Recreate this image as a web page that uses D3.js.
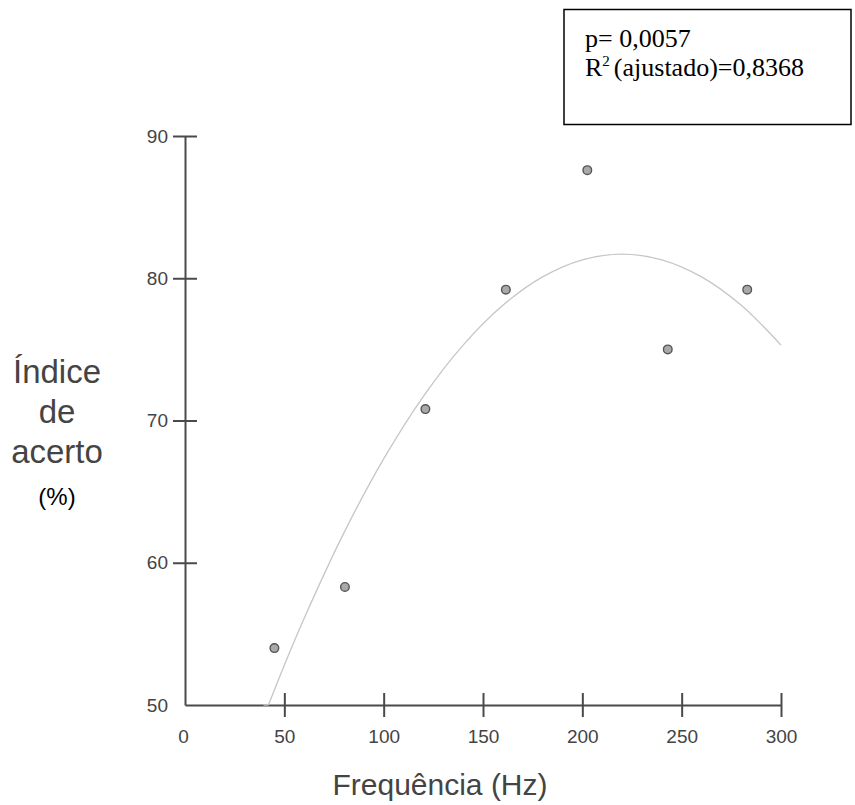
<!DOCTYPE html>
<html>
<head>
<meta charset="utf-8">
<script src="https://cdn.jsdelivr.net/npm/d3@7"></script>
<style>
  body { margin: 0; background: #fff; }
  svg { display: block; }
</style>
</head>
<body>
<div id="graph"></div>
<script>
// DATA
// measured points (frequency in Hz, hit rate in %)
const freqs = [45, 80.5, 121, 161.5, 202.5, 243, 283]
const acerto = [54.0, 58.3, 70.8, 79.2, 87.6, 75.0, 79.2]
// fitted curve (clipped at 50 on the left)
const fitFreqs = [42, 50, 60, 80, 100, 120, 140, 160, 180, 200, 220, 240, 260, 280, 300]
const fitValues = [50, 52.8, 56.1, 62.1, 67.3, 71.7, 75.3, 78.1, 80.1, 81.3, 81.7, 81.3, 80.1, 78.1, 75.3]
// short flat piece where the curve meets the x axis
const stubFreqs = [39.5, 42]
const stubValues = [50, 50]
// tick values
const xTicks = [0, 50, 100, 150, 200, 250, 300]
const yTicks = [50, 60, 70, 80, 90]
// stats box lines
const pText = "p= 0,0057"
const r2Value = "(ajustado)=0,8368"

// Colours
const axisColor = "#4a4a4a"
const labelColor = "#444"
const pointFill = "#a9a9a9"
const pointStroke = "#555"
const fitStroke = "#c6c6c6"

const width = 855
const height = 805

const svg = d3.select("#graph").append("svg")
  .attr("width", width).attr("height", height)

// scales
const xScale = d3.scaleLinear().domain([0, 300]).range([185, 781])
const yScale = d3.scaleLinear().domain([50, 90]).range([705, 136])

// x axis
const xAxis = svg.append("g")
  .attr("transform", `translate(0, ${yScale(50)})`)
  .call(d3.axisBottom(xScale).tickValues(xTicks).tickSizeInner(12).tickSizeOuter(0).tickPadding(13))
xAxis.select(".domain").attr("stroke", axisColor).attr("stroke-width", 2)
xAxis.selectAll(".tick line").attr("stroke", axisColor).attr("stroke-width", 2).attr("y1", -12)
  .filter(d => d == 0).remove()
xAxis.selectAll(".tick text")
  .attr("fill", labelColor).style("font-family", "'Liberation Sans', Arial, sans-serif").style("font-size", "19px")
  .attr("dx", d => d == 0 ? -2 : 0)

// y axis
const yAxis = svg.append("g")
  .attr("transform", `translate(${xScale(0)}, 0)`)
  .call(d3.axisLeft(yScale).tickValues(yTicks).tickSizeInner(12).tickSizeOuter(0).tickPadding(5))
yAxis.select(".domain").attr("stroke", axisColor).attr("stroke-width", 2)
yAxis.selectAll(".tick line").attr("stroke", axisColor).attr("stroke-width", 2).attr("x1", 12)
  .filter(d => d == 50).remove()
yAxis.selectAll(".tick text")
  .attr("fill", labelColor).style("font-family", "'Liberation Sans', Arial, sans-serif").style("font-size", "19px")

// fitted curve
const line = d3.line()
  .x(d => xScale(d[0]))
  .y(d => yScale(d[1]))
  .curve(d3.curveCatmullRom.alpha(0.5))

svg.append("path")
  .attr("d", line(d3.zip(fitFreqs, fitValues)))
  .attr("fill", "none")
  .attr("stroke", fitStroke)
  .attr("stroke-width", 1.3)

svg.append("path")
  .attr("d", d3.line().x(d => xScale(d[0])).y(d => yScale(d[1]))(d3.zip(stubFreqs, stubValues)))
  .attr("fill", "none")
  .attr("stroke", fitStroke)
  .attr("stroke-width", 1.3)

// points
svg.selectAll("circle").data(acerto).enter()
  .append("circle")
  .attr("cx", (d, i) => xScale(freqs[i]))
  .attr("cy", d => yScale(d))
  .attr("r", 4.3)
  .attr("fill", pointFill)
  .attr("stroke", pointStroke)
  .attr("stroke-width", 1.4)

// axis labels
svg.append("text")
  .attr("x", 440).attr("y", 795)
  .attr("text-anchor", "middle")
  .attr("fill", labelColor)
  .style("font-family", "'Liberation Sans', Arial, sans-serif").style("font-size", "30px")
  .text("Frequência (Hz)")

const yLabelLines = ["Índice", "de", "acerto"]
svg.selectAll(".ylab").data(yLabelLines).enter()
  .append("text")
  .attr("class", "ylab")
  .attr("x", 57).attr("y", (d, i) => 383 + i * 40)
  .attr("text-anchor", "middle")
  .attr("fill", labelColor)
  .style("font-family", "'Liberation Sans', Arial, sans-serif").style("font-size", "33px")
  .text(d => d)

svg.append("text")
  .attr("x", 57).attr("y", 505)
  .attr("text-anchor", "middle")
  .attr("fill", "#000")
  .style("font-family", "'Liberation Sans', Arial, sans-serif").style("font-size", "24px")
  .text("(%)")

// stats box
svg.append("rect")
  .attr("x", 564).attr("y", 9.5)
  .attr("width", 287).attr("height", 115)
  .attr("fill", "#fff").attr("stroke", "#000").attr("stroke-width", 1.5)

const boxFont = "'Liberation Serif', 'Times New Roman', serif"
svg.append("text")
  .attr("x", 585).attr("y", 47)
  .style("font-family", boxFont).style("font-size", "26px")
  .text(pText)

const r2 = svg.append("text")
  .attr("x", 585).attr("y", 76)
  .style("font-family", boxFont).style("font-size", "26px")
r2.append("tspan").text("R")
r2.append("tspan").attr("dy", -10).style("font-size", "15px").text("2")
r2.append("tspan").attr("dy", 10).attr("dx", 4).text(r2Value)
</script>
</body>
</html>
